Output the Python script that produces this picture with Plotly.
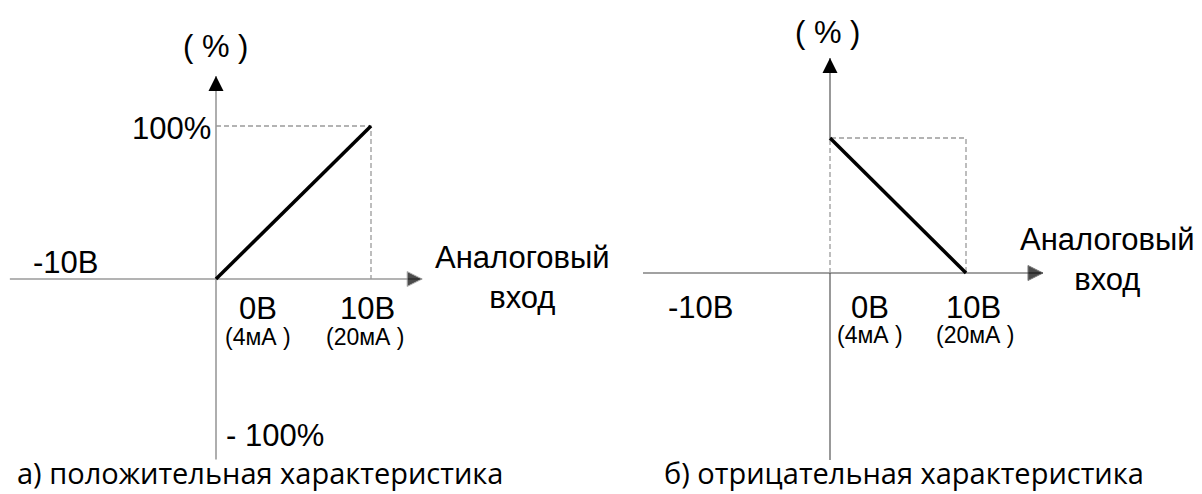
"""
Analog input characteristics: positive (a) and negative (b) response.
"""
import plotly.graph_objects as go

# Data
volts = [0, 10]                 # input voltage, V
pos_pct = [0, 100]              # positive characteristic, %
neg_pct = [100, 0]              # negative characteristic, %
volt_labels = ["-10В", "0В", "10В"]
volt_ticks = [-10, 0, 10]
current_labels = ["(4мА )", "(20мА )"]
pct_labels = ["100%", "- 100%"]
axis_title_x = "Аналоговый<br>вход"
axis_title_y = "( % )"
captions = ["а) положительная характеристика", "б) отрицательная характеристика"]

W, H = 1202, 494
PAGE = 8   # the page body margin shifts the figure by this much

# panel geometry: pixel origin (page coords), px per unit, pixel box of the subplot,
# and the extent of the drawn axes in data units
L = dict(ox=216, oy=279, sx=15.5, sy=1.53, box=[0, 610, 0, 494],
         xaxis=[-13.3, 13.3], yaxis=[-118, 132.7])
R = dict(ox=830, oy=273, sx=13.6, sy=1.35, box=[625, 1202, 0, 494],
         xaxis=[-13.75, 15.66], yaxis=[-138.5, 159.3])


def axes_for(p):
    ox, oy = p['ox'] - PAGE, p['oy'] - PAGE
    x0, x1, y0, y1 = p['box']
    xr = [(x0 - ox) / p['sx'], (x1 - ox) / p['sx']]
    yr = [(oy - y1) / p['sy'], (oy - y0) / p['sy']]
    xd = [x0 / W, x1 / W]
    yd = [(H - y1) / H, (H - y0) / H]
    return xr, yr, xd, yd


LABEL_FONT = dict(family="Liberation Sans, Arial, sans-serif", size=31, color="black")
SMALL_FONT = dict(family="Liberation Sans, Arial, sans-serif", size=23, color="black")
CAPTION_FONT = dict(family="Open Sans, Noto Sans, sans-serif", size=29, color="black")
DASH = dict(color="#9a9a9a", width=1.3, dash="5px,3px")

fig = go.Figure()


def add_axes(xref, yref, p, color, width, y_gap=None):
    # x axis with arrow
    fig.add_trace(go.Scatter(
        x=p['xaxis'], y=[0, 0], xaxis=xref, yaxis=yref, mode='lines+markers',
        line=dict(color=color, width=width),
        marker=dict(symbol=['circle', 'arrow-right'], size=[0, 15], color='black'),
        hoverinfo='skip', showlegend=False))
    # y axis (optionally broken where the dashed frame covers it)
    if y_gap is None:
        ys = [p['yaxis'][0], p['yaxis'][1]]
        xs = [0, 0]
    else:
        ys = [p['yaxis'][0], y_gap[0], None, y_gap[1], p['yaxis'][1]]
        xs = [0, 0, None, 0, 0]
    fig.add_trace(go.Scatter(
        x=xs, y=ys, xaxis=xref, yaxis=yref, mode='lines',
        line=dict(color=color, width=width),
        hoverinfo='skip', showlegend=False))
    fig.add_trace(go.Scatter(
        x=[0], y=[p['yaxis'][1]], xaxis=xref, yaxis=yref, mode='markers',
        marker=dict(symbol='arrow-up', size=15, color='black'),
        hoverinfo='skip', showlegend=False))


# ---- left panel: positive characteristic
add_axes('x', 'y', L, '#9a9a9a', 1.6)
fig.add_trace(go.Scatter(
    x=[volts[0], volts[1], volts[1]], y=[pos_pct[1], pos_pct[1], pos_pct[0]],
    xaxis='x', yaxis='y', mode='lines', line=DASH, hoverinfo='skip', showlegend=False))
fig.add_trace(go.Scatter(
    x=volts, y=pos_pct, xaxis='x', yaxis='y', mode='lines',
    line=dict(color='black', width=3.5), showlegend=False))

# ---- right panel: negative characteristic
add_axes('x2', 'y2', R, '#444444', 1.1, y_gap=[0, neg_pct[0]])
fig.add_trace(go.Scatter(
    x=[volts[0], volts[0], volts[1], volts[1]],
    y=[neg_pct[1], neg_pct[0], neg_pct[0], neg_pct[1]],
    xaxis='x2', yaxis='y2', mode='lines', line=DASH, hoverinfo='skip', showlegend=False))
fig.add_trace(go.Scatter(
    x=volts, y=neg_pct, xaxis='x2', yaxis='y2', mode='lines',
    line=dict(color='black', width=3.5), showlegend=False))

ann = []


def label(text, x, y, xref, yref, font, xshift=0, yshift=0, xanchor='center'):
    ann.append(dict(text=text, x=x, y=y, xref=xref, yref=yref, showarrow=False,
                    font=font, xanchor=xanchor, yanchor='middle',
                    xshift=xshift, yshift=yshift))


# left labels
label(axis_title_y, 0, L['yaxis'][1], 'x', 'y', LABEL_FONT, xshift=-1, yshift=29)
label(pct_labels[0], 0, 100, 'x', 'y', LABEL_FONT, xshift=-3, yshift=-2, xanchor='right')
label(pct_labels[1], 0, -100, 'x', 'y', LABEL_FONT, xshift=8, yshift=-3, xanchor='left')
label(volt_labels[0], volt_ticks[0], 0, 'x', 'y', LABEL_FONT, xshift=4, yshift=17)
label(volt_labels[1], volt_ticks[1], 0, 'x', 'y', LABEL_FONT, xshift=42, yshift=-29)
label(volt_labels[2], volt_ticks[2], 0, 'x', 'y', LABEL_FONT, xshift=-4, yshift=-29)
label(current_labels[0], volt_ticks[1], 0, 'x', 'y', SMALL_FONT, xshift=42, yshift=-58)
label(current_labels[1], volt_ticks[2], 0, 'x', 'y', SMALL_FONT, xshift=-6, yshift=-58)
label(axis_title_x, L['xaxis'][1], 0, 'x', 'y', LABEL_FONT, xshift=100, yshift=2)

# right labels
label(axis_title_y, 0, R['yaxis'][1], 'x2', 'y2', LABEL_FONT, xshift=-3, yshift=25)
label(volt_labels[0], volt_ticks[0], 0, 'x2', 'y2', LABEL_FONT, xshift=6, yshift=-34)
label(volt_labels[1], volt_ticks[1], 0, 'x2', 'y2', LABEL_FONT, xshift=40, yshift=-34)
label(volt_labels[2], volt_ticks[2], 0, 'x2', 'y2', LABEL_FONT, xshift=7, yshift=-34)
label(current_labels[0], volt_ticks[1], 0, 'x2', 'y2', SMALL_FONT, xshift=40, yshift=-62)
label(current_labels[1], volt_ticks[2], 0, 'x2', 'y2', SMALL_FONT, xshift=9, yshift=-62)
label(axis_title_x, R['xaxis'][1], 0, 'x2', 'y2', LABEL_FONT, xshift=65, yshift=14)

# captions
for text, xpx in zip(captions, [15, 662]):
    ann.append(dict(text=text, x=(xpx - PAGE) / W, y=(H - (472 - PAGE)) / H,
                    xref='paper', yref='paper', showarrow=False, font=CAPTION_FONT,
                    xanchor='left', yanchor='middle'))

lxr, lyr, lxd, lyd = axes_for(L)
rxr, ryr, rxd, ryd = axes_for(R)
hidden = dict(visible=False, showgrid=False, zeroline=False, fixedrange=True)

fig.update_layout(
    width=W, height=H,
    margin=dict(l=0, r=0, t=0, b=0),
    paper_bgcolor='white', plot_bgcolor='rgba(0,0,0,0)',
    xaxis=dict(domain=lxd, range=lxr, **hidden),
    yaxis=dict(domain=lyd, range=lyr, **hidden),
    xaxis2=dict(domain=rxd, range=rxr, anchor='y2', **hidden),
    yaxis2=dict(domain=ryd, range=ryr, anchor='x2', **hidden),
    annotations=ann,
    showlegend=False,
)

fig.write_html("out.html", config={'displayModeBar': False})
